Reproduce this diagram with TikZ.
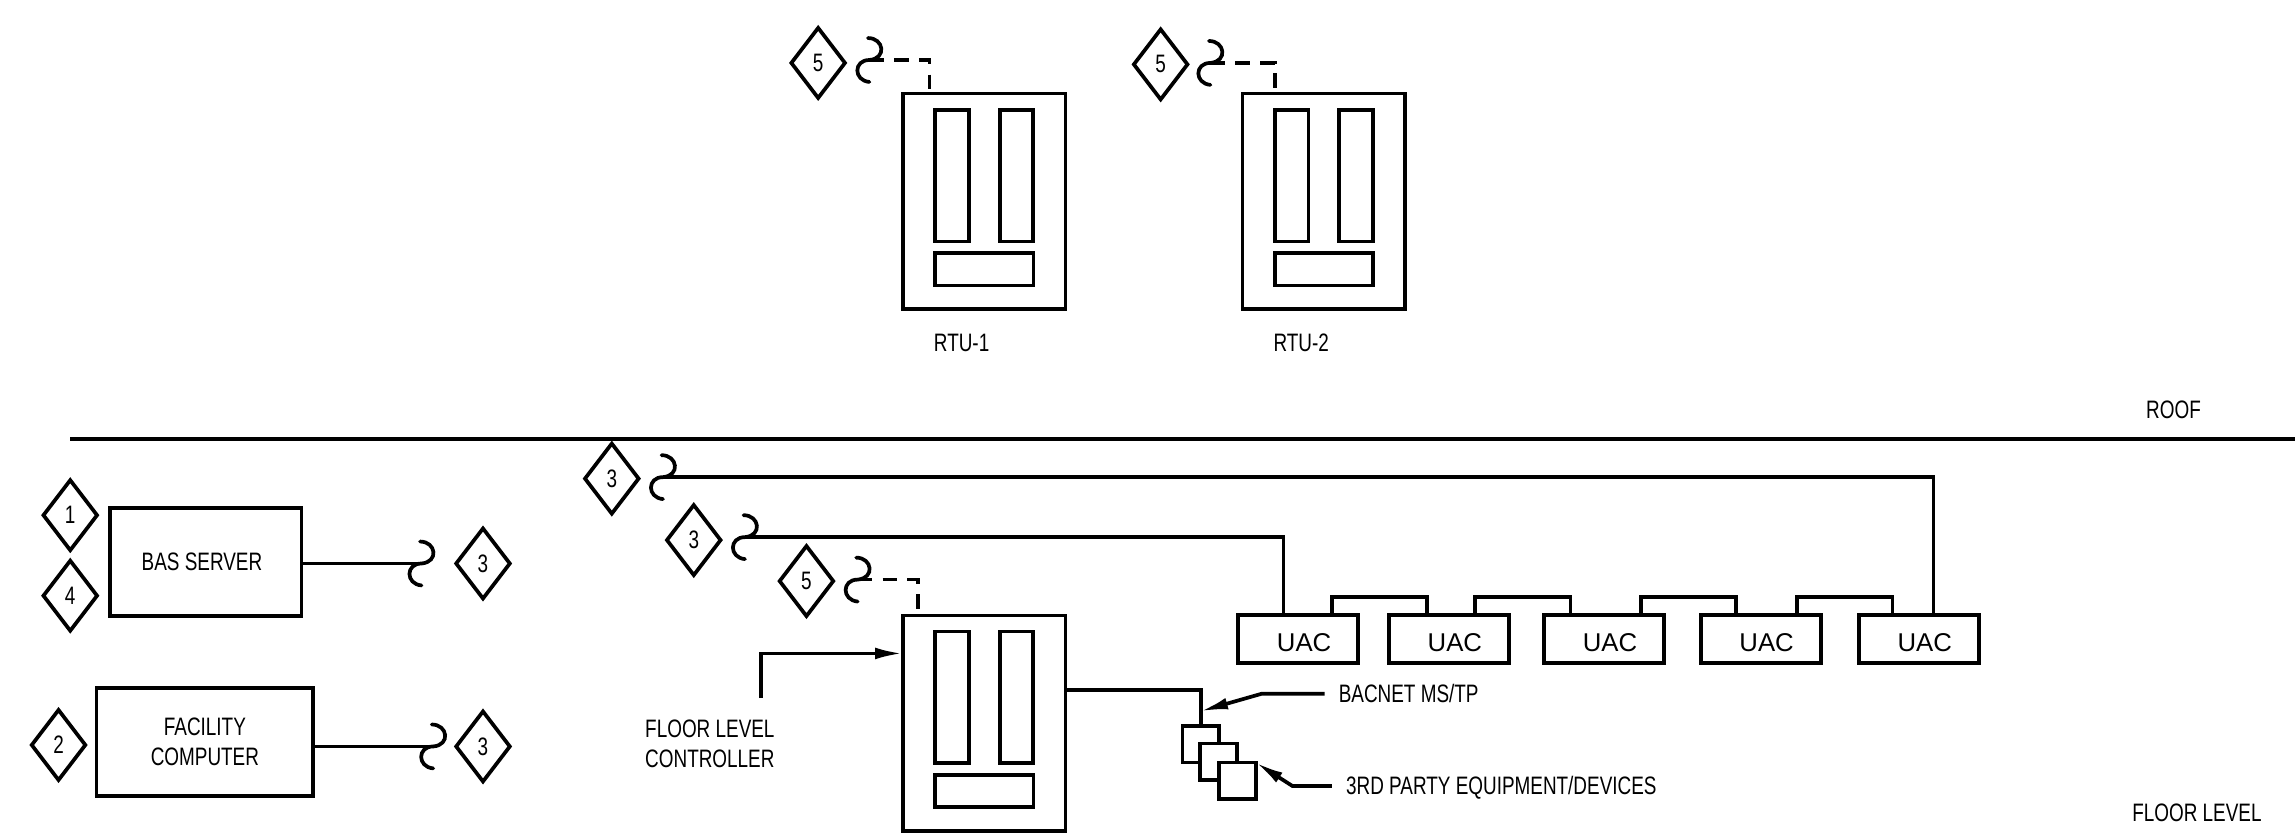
\documentclass[tikz,border=0pt]{standalone}
\usepackage{fontspec}
\setmainfont{Liberation Sans}
\newfontfamily\narrowfam[FakeStretch=0.75]{Liberation Sans}
\usetikzlibrary{arrows.meta,shapes.geometric,positioning,calc}
\tikzset{
  wire/.style={line width=0.72pt},
  dashwire/.style={wire, dash pattern=on 0.1cm off 0.07cm},
  leader/.style={wire, -{Latex[length=0.19cm,width=0.08cm]}},
  tag/.style={draw, wire, shape=diamond, aspect=0.77, inner sep=0pt, outer sep=0pt, minimum width=0.366cm, minimum height=0.478cm, font=\narrowfam\fontsize{4.9}{5.7}\selectfont},
  box/.style={draw, wire, rectangle, inner sep=0pt, outer sep=0pt, fill=white},
  txt/.style={inner sep=0.09cm, align=center, font=\narrowfam\fontsize{4.9}{5.8}\selectfont},
  uacbox/.style={box, minimum width=0.82cm, minimum height=0.33cm, font=\fontsize{5}{6}\selectfont},
  hook/.pic={
    \draw[wire, line cap=round] (-1,-15) .. controls (10,-15) and (12,-1) .. (0,0) .. controls (-11,0) and (-11,14) .. (0,15);
  },
  ctrl/.pic={
    \node[box, minimum width=1.11cm, minimum height=1.47cm] (-body) at (0,0) {};
    \node[box, minimum width=0.23cm, minimum height=0.90cm] (-left) at (-22,-17.5) {};
    \node[box, minimum width=0.23cm, minimum height=0.90cm] (-right) at (22,-17.5) {};
    \node[box, minimum width=0.67cm, minimum height=0.22cm] (-low) at (0,46.5) {};
  }
}
\begin{document}
\begin{tikzpicture}[x=0.01cm, y=-0.01cm]
\useasboundingbox (0,0) rectangle (1568,573);
\coordinate (roofl) at (48,300);
\coordinate (roofr) at (1568,300);
\draw[wire] (roofl) -- (roofr);
\node[txt] (rooftxt) at (1485,280) {ROOF};
\node[txt] (floortxt) at (1501,555) {FLOOR LEVEL};

\pic (rtua) at (672.5,137.5) {ctrl};
\pic (rtub) at (904.5,137.5) {ctrl};
\pic (flc) at (672.5,494) {ctrl};
\node[txt] (rtuatxt) at (657,234) {RTU-1};
\node[txt] (rtubtxt) at (889,234) {RTU-2};

\foreach \n/\x/\y/\t in {taga/559/43/5,tagb/793/44/5,tagc/48/352/1,tagd/48/407/4,tage/330/385/3,tagf/40/509/2,tagg/330/510/3,tagh/418/327/3,tagi/474/369/3,tagj/551/397/5} {
  \node[tag] (\n) at (\x,\y) {\t};
}
\foreach \n/\x/\y in {hka/594/41,hkb/827/43,hkc/288/385,hkd/296/510,hke/453/326,hkf/509/367,hkg/586/396} {
  \coordinate (\n) at (\x,\y);
  \pic at (\n) {hook};
}

\draw[dashwire] (hka) -| ($(rtua-body.north west)+(18,0)$);
\draw[dashwire] (hkb) -| ($(rtub-body.north west)+(22,0)$);
\draw[dashwire] (hkg) -| ($(flc-body.north west)+(10,0)$);

\node[box, minimum width=1.31cm, minimum height=0.74cm, font=\narrowfam\fontsize{4.9}{5.8}\selectfont] (bas) at (140.5,384) {BAS SERVER\hspace*{0.05cm}};
\node[box, minimum width=1.48cm, minimum height=0.74cm, align=center, font=\narrowfam\fontsize{4.9}{5.8}\selectfont] (fac) at (140,507) {FACILITY\\COMPUTER};
\draw[wire] (bas.east |- hkc) -- (hkc);
\draw[wire] (fac.east |- hkd) -- (hkd);

\foreach \n/\x in {uaca/887,uacb/990,uacc/1096,uacd/1203,uace/1311} {
  \node[uacbox] (\n) at (\x,436.5) {\hspace*{0.08cm}\smash{\raisebox{-0.085cm}{UAC}}};
}
\draw[wire] (hke) -| ($(uace.north west)+(51,0)$);
\draw[wire] (hkf) -| ($(uaca.north west)+(31,0)$);
\foreach \s/\e/\a/\b in {uaca/uacb/64/26,uacb/uacc/59/18,uacc/uacd/66/24,uacd/uace/66/23} {
  \draw[wire] ($(\s.north west)+(\a,0)$) -- ++(0,-12) -| ($(\e.north west)+(\b,0)$);
}

\coordinate (flcfeed) at (520,477);
\draw[leader] (flcfeed) |- ($(flc-body.north west)+(0,26)$);
\node[txt] (flctxt) at (485,508) {FLOOR LEVEL\\CONTROLLER};

\node[box, minimum width=0.25cm, minimum height=0.25cm] (deva) at (820.5,508.5) {};
\node[box, minimum width=0.25cm, minimum height=0.25cm] (devb) at (832.5,520.5) {};
\node[box, minimum width=0.25cm, minimum height=0.25cm] (devc) at (845.5,533.5) {};
\draw[wire] ($(flc-body.north east)+(0,51)$) -| (deva.north);

\coordinate (busjoin) at (820,486);
\node[txt, anchor=west] (bustxt) at (905,474) {BACNET MS/TP};
\node[txt, anchor=west] (devtxt) at (910,538) {3RD PARTY EQUIPMENT/DEVICES};
\draw[leader] (bustxt.west) -- ++(-43,0) -- (busjoin);
\draw[leader] (devtxt.west |- 0,537) -- ++(-27,0) -- (devc.north east);
\end{tikzpicture}
\end{document}
